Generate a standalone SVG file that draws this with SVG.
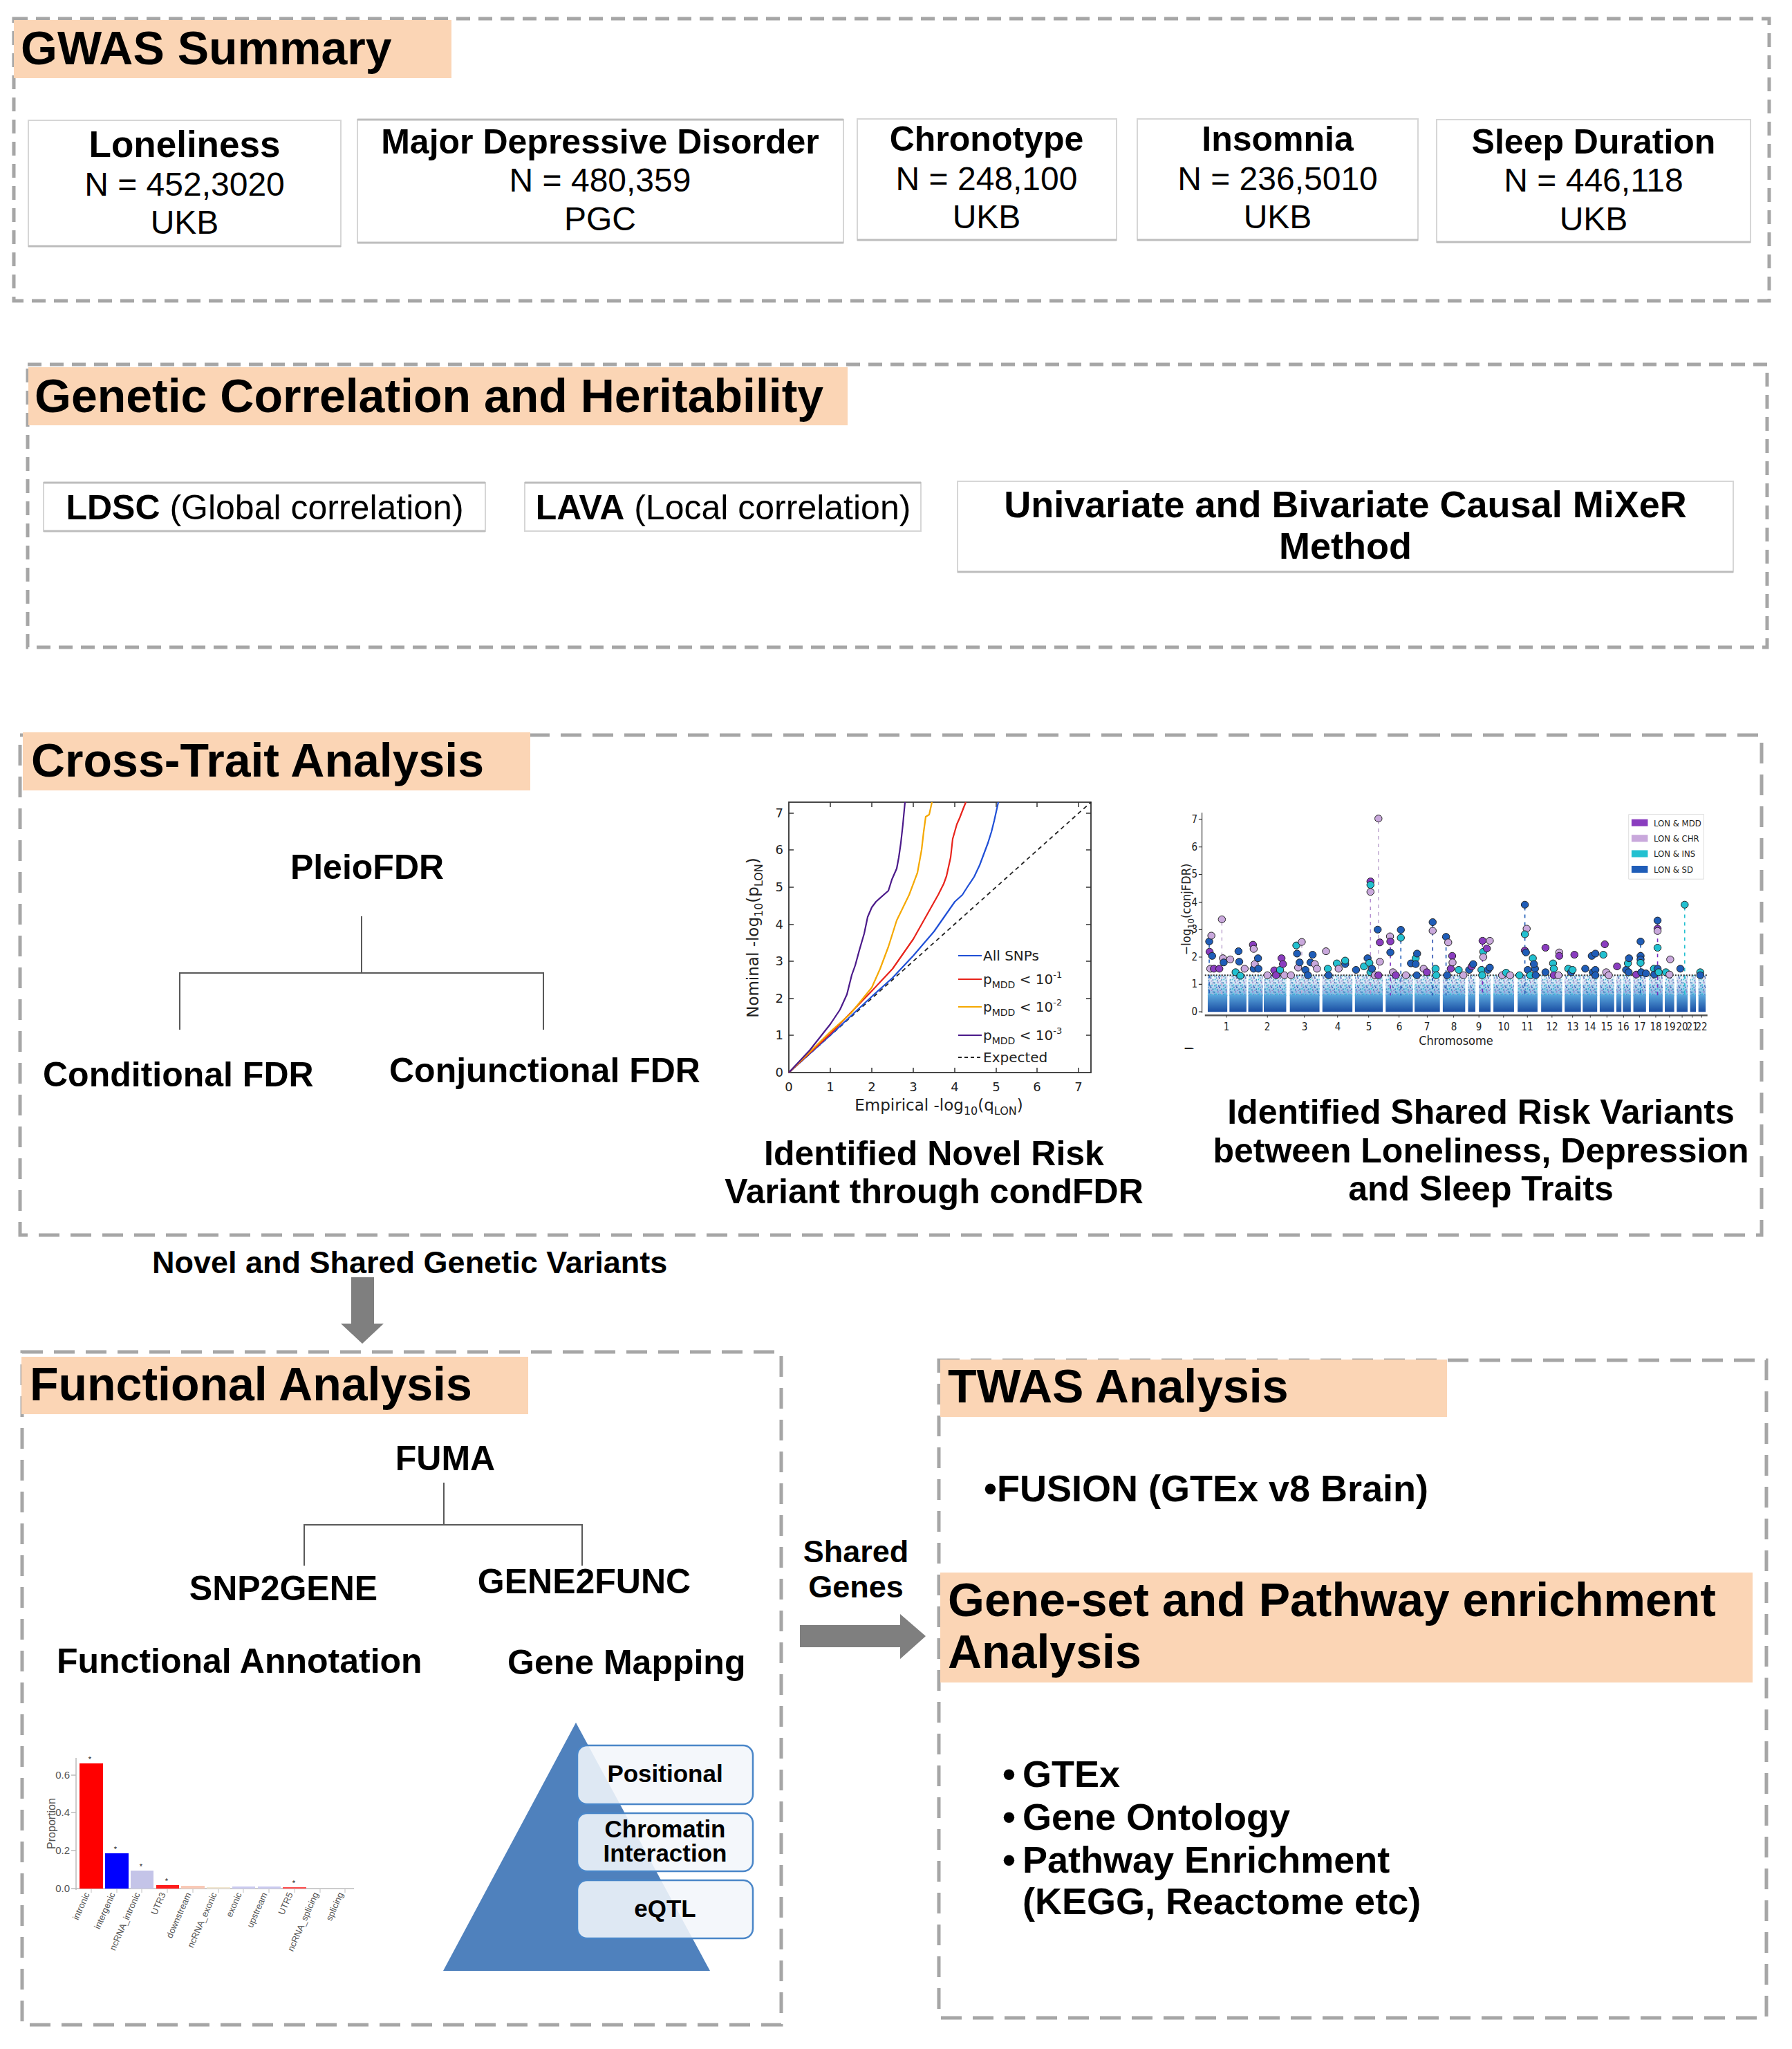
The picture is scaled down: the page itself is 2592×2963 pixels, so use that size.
<svg xmlns="http://www.w3.org/2000/svg" width="2592" height="2963" viewBox="0 0 2592 2963">
<defs>
<style>
.sec{fill:none;stroke:#a6a6a6;stroke-width:5;stroke-dasharray:20 12}
.sec2{fill:none;stroke:#a6a6a6;stroke-width:5;stroke-dasharray:30 16}
.hdr{fill:#fbd5b5}
.ht{font-family:"Liberation Sans",Arial,sans-serif;font-weight:bold;font-size:68px;fill:#000}
.box{fill:#fff;stroke:#d6d6d6;stroke-width:2}
.shadow{stroke:#bdbdbd;stroke-width:3}
.b50{font-family:"Liberation Sans",Arial,sans-serif;font-weight:bold;font-size:50px;fill:#000}
.r48{font-family:"Liberation Sans",Arial,sans-serif;font-size:48px;fill:#000}
.mid{text-anchor:middle}
.tree{fill:none;stroke:#595959;stroke-width:2}
.arr{fill:#7f7f7f}
.qq{font-family:"DejaVu Sans",sans-serif;fill:#222}
.mh{font-family:"DejaVu Sans Condensed","DejaVu Sans",sans-serif;fill:#222}
.bl{font-family:"Liberation Sans",Arial,sans-serif;fill:#555}
.pyb{fill:#f2f6fb;fill-opacity:0.88;stroke:#4a86c8;stroke-width:2.5}
.pyt{font-family:"Liberation Sans",Arial,sans-serif;font-weight:bold;font-size:35px;fill:#000;text-anchor:middle}
.ns{vector-effect:non-scaling-stroke}
</style>
<linearGradient id="gDense" x1="0" y1="0" x2="0" y2="1">
<stop offset="0" stop-color="#5aa6dc"/>
<stop offset="1" stop-color="#1a4ea3"/>
</linearGradient>
<linearGradient id="gUp" x1="0" y1="0" x2="0" y2="1">
<stop offset="0" stop-color="#8fc1e6" stop-opacity="0"/>
<stop offset="1" stop-color="#5aa6dc" stop-opacity="0.9"/>
</linearGradient>
<pattern id="pNoise" patternUnits="userSpaceOnUse" width="24" height="40">
<rect x="1" y="3" width="3" height="6" fill="#1f77b4"/>
<rect x="6" y="12" width="3" height="6" fill="#17becf"/>
<rect x="11" y="1" width="3" height="6" fill="#9467bd"/>
<rect x="15" y="22" width="3" height="6" fill="#1f3f9f"/>
<rect x="19" y="8" width="3" height="6" fill="#c5b0d5"/>
<rect x="3" y="28" width="3" height="6" fill="#17becf"/>
<rect x="9" y="33" width="3" height="6" fill="#1f77b4"/>
<rect x="13" y="16" width="3" height="6" fill="#2a5cb8"/>
<rect x="21" y="30" width="3" height="6" fill="#1f77b4"/>
<rect x="17" y="36" width="3" height="4" fill="#9467bd"/>
<rect x="7" y="22" width="3" height="5" fill="#1f5db8"/>
<rect x="2" y="16" width="3" height="5" fill="#2a5cb8"/>
<rect x="18" y="14" width="3" height="5" fill="#17becf"/>
<rect x="12" y="27" width="3" height="5" fill="#c5b0d5"/>
<rect x="22" y="2" width="2" height="5" fill="#1f3f9f"/>
</pattern>
<ellipse id="mM" rx="10" ry="15" fill="#8a3dbf" stroke="#222" stroke-width="1" vector-effect="non-scaling-stroke"/>
<ellipse id="mC" rx="10" ry="15" fill="#c9a8dc" stroke="#222" stroke-width="1" vector-effect="non-scaling-stroke"/>
<ellipse id="mI" rx="10" ry="15" fill="#22c0d0" stroke="#222" stroke-width="1" vector-effect="non-scaling-stroke"/>
<ellipse id="mS" rx="10" ry="15" fill="#1f5db8" stroke="#222" stroke-width="1" vector-effect="non-scaling-stroke"/>
<clipPath id="cBar"><rect x="40" y="2480" width="500" height="342"/></clipPath>
<clipPath id="cB"><rect x="1700" y="1500" width="40" height="17"/></clipPath>
</defs>
<rect width="2592" height="2963" fill="#fff"/>

<!-- Section 1: GWAS Summary -->
<g id="sec-gwas">
<rect class="sec" x="20" y="27" width="2539" height="408"/>
<rect class="hdr" x="20" y="29" width="633" height="84"/>
<text class="ht" x="30" y="93">GWAS Summary</text>
</g>
<g id="node-loneliness">
<rect class="box" x="41" y="174" width="452" height="182"/>
<line class="shadow" x1="41" y1="356" x2="493" y2="356"/>
<text class="b50 mid" x="267" y="227" style="font-size:53px">Loneliness</text>
<text class="r48 mid" x="267" y="283">N = 452,3020</text>
<text class="r48 mid" x="267" y="338">UKB</text>
</g>
<g id="node-mdd">
<rect class="box" x="517" y="173" width="703" height="178"/>
<line class="shadow" x1="517" y1="351" x2="1220" y2="351"/>
<line class="shadow" x1="517" y1="173" x2="1220" y2="173"/>
<text class="b50 mid" x="868" y="222">Major Depressive Disorder</text>
<text class="r48 mid" x="868" y="277">N = 480,359</text>
<text class="r48 mid" x="868" y="333">PGC</text>
</g>
<g id="node-chronotype">
<rect class="box" x="1240" y="172" width="375" height="175"/>
<line class="shadow" x1="1240" y1="347" x2="1615" y2="347"/>
<text class="b50 mid" x="1427" y="218">Chronotype</text>
<text class="r48 mid" x="1427" y="275">N = 248,100</text>
<text class="r48 mid" x="1427" y="330">UKB</text>
</g>
<g id="node-insomnia">
<rect class="box" x="1645" y="172" width="406" height="175"/>
<line class="shadow" x1="1645" y1="347" x2="2051" y2="347"/>
<text class="b50 mid" x="1848" y="218">Insomnia</text>
<text class="r48 mid" x="1848" y="275">N = 236,5010</text>
<text class="r48 mid" x="1848" y="330">UKB</text>
</g>
<g id="node-sleep">
<rect class="box" x="2078" y="173" width="454" height="177"/>
<line class="shadow" x1="2078" y1="350" x2="2532" y2="350"/>
<text class="b50 mid" x="2305" y="222">Sleep Duration</text>
<text class="r48 mid" x="2305" y="277">N = 446,118</text>
<text class="r48 mid" x="2305" y="333">UKB</text>
</g>

<!-- Section 2 -->
<g id="sec-genetic">
<rect class="sec" x="40" y="527" width="2516" height="409"/>
<rect class="hdr" x="41" y="531" width="1185" height="84"/>
<text class="ht" x="50" y="596">Genetic Correlation and Heritability</text>
</g>
<g id="node-ldsc">
<rect class="box" x="63" y="698" width="639" height="70"/>
<line class="shadow" x1="63" y1="768" x2="702" y2="768"/>
<line class="shadow" x1="63" y1="698" x2="702" y2="698"/>
<text class="b50 mid" x="383" y="751">LDSC<tspan style="font-weight:normal"> (Global correlation)</tspan></text>
</g>
<g id="node-lava">
<rect class="box" x="759" y="698" width="573" height="70"/>
<line class="shadow" x1="759" y1="698" x2="1332" y2="698"/>
<text class="b50 mid" x="1046" y="751">LAVA<tspan style="font-weight:normal"> (Local correlation)</tspan></text>
</g>
<g id="node-mixer">
<rect class="box" x="1385" y="696" width="1122" height="131"/>
<line class="shadow" x1="1385" y1="827" x2="2507" y2="827"/>
<text class="b50 mid" x="1946" y="748" style="font-size:54px">Univariate and Bivariate Causal MiXeR</text>
<text class="b50 mid" x="1946" y="808" style="font-size:54px">Method</text>
</g>

<!-- Section 3 -->
<g id="sec-cross">
<rect class="sec2" x="29" y="1063" width="2519" height="723"/>
<rect class="hdr" x="33" y="1059" width="734" height="84"/>
<text class="ht" x="45" y="1123">Cross-Trait Analysis</text>
</g>
<g id="node-pleiofdr"><text class="b50 mid" x="531" y="1271">PleioFDR</text></g>
<g id="node-condfdr"><text class="b50" x="62" y="1571">Conditional FDR</text></g>
<g id="node-conjfdr"><text class="b50" x="563" y="1565">Conjunctional FDR</text></g>

<!-- QQ plot -->
<g id="node-qqplot">
<rect x="1141" y="1160" width="437" height="391" fill="none" stroke="#333" stroke-width="1.8"/>
<g stroke="#333" stroke-width="1.5">
<path d="M1141 1497h7M1141 1444h7M1141 1390h7M1141 1337h7M1141 1283h7M1141 1229h7M1141 1176h7"/>
<path d="M1578 1497h-7M1578 1444h-7M1578 1390h-7M1578 1337h-7M1578 1283h-7M1578 1229h-7M1578 1176h-7"/>
<path d="M1201 1551v-7M1261 1551v-7M1321 1551v-7M1381 1551v-7M1441 1551v-7M1500 1551v-7M1560 1551v-7"/>
<path d="M1201 1160v7M1261 1160v7M1321 1160v7M1381 1160v7M1441 1160v7M1500 1160v7M1560 1160v7"/>
</g>
<g class="qq" font-size="18" text-anchor="end">
<text x="1133" y="1557">0</text><text x="1133" y="1503">1</text><text x="1133" y="1450">2</text><text x="1133" y="1396">3</text>
<text x="1133" y="1343">4</text><text x="1133" y="1289">5</text><text x="1133" y="1235">6</text><text x="1133" y="1182">7</text>
</g>
<g class="qq" font-size="18" text-anchor="middle">
<text x="1141" y="1578">0</text><text x="1201" y="1578">1</text><text x="1261" y="1578">2</text><text x="1321" y="1578">3</text>
<text x="1381" y="1578">4</text><text x="1441" y="1578">5</text><text x="1500" y="1578">6</text><text x="1560" y="1578">7</text>
</g>
<text class="qq" x="1358" y="1606" font-size="23" text-anchor="middle">Empirical -log<tspan font-size="16" baseline-shift="-6">10</tspan>(q<tspan font-size="16" baseline-shift="-6">LON</tspan>)</text>
<text class="qq" transform="translate(1097,1356) rotate(-90)" font-size="23" text-anchor="middle">Nominal -log<tspan font-size="16" baseline-shift="-6">10</tspan>(p<tspan font-size="16" baseline-shift="-6">LON</tspan>)</text>
<line x1="1141" y1="1551" x2="1578" y2="1160" stroke="#222" stroke-width="1.8" stroke-dasharray="6 5"/>
<g fill="none" stroke-width="2.2" stroke-linejoin="round">
<polyline stroke="#1f4fd6" points="1141,1551 1201,1497 1261,1441 1291,1414 1321,1382 1351,1347 1381,1304 1392,1294 1399,1283 1409,1268 1417,1251 1429,1219 1434,1203 1438,1187 1444,1160"/>
<polyline stroke="#e8231b" points="1141,1551 1201,1495 1261,1433 1291,1401 1321,1358 1339,1326 1357,1294 1365,1278 1369,1267 1375,1240 1378,1213 1384,1192 1388,1183 1393,1170 1397,1160"/>
<polyline stroke="#f5a800" points="1141,1551 1201,1492 1231,1465 1261,1428 1273,1401 1285,1369 1297,1331 1315,1294 1327,1262 1333,1229 1336,1203 1339,1181 1344,1178 1348,1160"/>
<polyline stroke="#4b1a8a" points="1141,1551 1171,1519 1201,1481 1215,1460 1225,1438 1232,1410 1237,1396 1243,1374 1250,1350 1255,1326 1261,1312 1267,1304 1285,1288 1290,1272 1297,1256 1300,1240 1303,1219 1306,1192 1309,1160"/>
</g>
<g stroke-width="2.2">
<line x1="1386" y1="1382" x2="1420" y2="1382" stroke="#1f4fd6"/>
<line x1="1386" y1="1416" x2="1420" y2="1416" stroke="#e8231b"/>
<line x1="1386" y1="1456" x2="1420" y2="1456" stroke="#f5a800"/>
<line x1="1386" y1="1497" x2="1420" y2="1497" stroke="#4b1a8a"/>
<line x1="1386" y1="1529" x2="1420" y2="1529" stroke="#222" stroke-dasharray="5 4"/>
</g>
<g class="qq" font-size="20">
<text x="1422" y="1389">All SNPs</text>
<text x="1422" y="1423">p<tspan font-size="14" baseline-shift="-6">MDD</tspan> &lt; 10<tspan font-size="13" baseline-shift="9">-1</tspan></text>
<text x="1422" y="1463">p<tspan font-size="14" baseline-shift="-6">MDD</tspan> &lt; 10<tspan font-size="13" baseline-shift="9">-2</tspan></text>
<text x="1422" y="1504">p<tspan font-size="14" baseline-shift="-6">MDD</tspan> &lt; 10<tspan font-size="13" baseline-shift="9">-3</tspan></text>
<text x="1422" y="1536">Expected</text>
</g>
<text class="b50 mid" x="1351" y="1685">Identified Novel Risk</text>
<text class="b50 mid" x="1351" y="1740">Variant through condFDR</text>
</g>

<!-- Manhattan plot -->
<g id="node-manhattan">
<g transform="translate(1680,1150) scale(0.523,0.3367)">
<path fill="url(#gUp)" d="M128 770h54v92h-54zM188 770h47v92h-47zM240 770h40v92h-40zM283 770h62v92h-62zM355 770h82v92h-82zM445 770h83v92h-83zM535 770h77v92h-77zM620 770h75v92h-75zM700 770h70v92h-70zM778 770h62v92h-62zM848 770h20v92h-20zM878 770h32v92h-32zM918 770h57v92h-57zM985 770h55v92h-55zM1050 770h58v92h-58zM1115 770h45v92h-45zM1165 770h40v92h-40zM1212 770h40v92h-40zM1258 770h14v92h-14zM1276 770h22v92h-22zM1305 770h35v92h-35zM1348 770h38v92h-38zM1392 770h26v92h-26zM1425 770h30v92h-30zM1462 770h16v92h-16zM1485 770h20v92h-20z"/>
<path fill="url(#pNoise)" d="M128 770h54v92h-54zM188 770h47v92h-47zM240 770h40v92h-40zM283 770h62v92h-62zM355 770h82v92h-82zM445 770h83v92h-83zM535 770h77v92h-77zM620 770h75v92h-75zM700 770h70v92h-70zM778 770h62v92h-62zM848 770h20v92h-20zM878 770h32v92h-32zM918 770h57v92h-57zM985 770h55v92h-55zM1050 770h58v92h-58zM1115 770h45v92h-45zM1165 770h40v92h-40zM1212 770h40v92h-40zM1258 770h14v92h-14zM1276 770h22v92h-22zM1305 770h35v92h-35zM1348 770h38v92h-38zM1392 770h26v92h-26zM1425 770h30v92h-30zM1462 770h16v92h-16zM1485 770h20v92h-20z"/>
<path fill="url(#gDense)" d="M128 858h54v72h-54zM188 858h47v72h-47zM240 858h40v72h-40zM283 858h62v72h-62zM355 858h82v72h-82zM445 858h83v72h-83zM535 858h77v72h-77zM620 858h75v72h-75zM700 858h70v72h-70zM778 858h62v72h-62zM848 858h20v72h-20zM878 858h32v72h-32zM918 858h57v72h-57zM985 858h55v72h-55zM1050 858h58v72h-58zM1115 858h45v72h-45zM1165 858h40v72h-40zM1212 858h40v72h-40zM1258 858h14v72h-14zM1276 858h22v72h-22zM1305 858h35v72h-35zM1348 858h38v72h-38zM1392 858h26v72h-26zM1425 858h30v72h-30zM1462 858h16v72h-16zM1485 858h20v72h-20z"/>
<g fill="none" stroke-width="1.6" stroke-dasharray="5 6">
<line class="ns" x1="600" y1="110" x2="600" y2="860" stroke="#c5b0d5"/>
<line class="ns" x1="578" y1="380" x2="578" y2="860" stroke="#b48fd0"/>
<line class="ns" x1="167" y1="545" x2="167" y2="860" stroke="#c5b0d5"/>
<line class="ns" x1="750" y1="555" x2="750" y2="860" stroke="#2a4fb0"/>
<line class="ns" x1="662" y1="590" x2="662" y2="860" stroke="#1f5db8"/>
<line class="ns" x1="1005" y1="480" x2="1005" y2="860" stroke="#1f5db8"/>
<line class="ns" x1="1372" y1="550" x2="1372" y2="860" stroke="#7b2cbf"/>
<line class="ns" x1="1447" y1="480" x2="1447" y2="860" stroke="#22c0d0"/>
<line class="ns" x1="1325" y1="640" x2="1325" y2="860" stroke="#1f5db8"/>
<line class="ns" x1="888" y1="635" x2="888" y2="860" stroke="#7b2cbf"/>
<line class="ns" x1="388" y1="640" x2="388" y2="860" stroke="#c5b0d5"/>
<line class="ns" x1="787" y1="620" x2="787" y2="860" stroke="#1f5db8"/>
<line class="ns" x1="132" y1="640" x2="132" y2="860" stroke="#1f5db8"/>
<line class="ns" x1="633" y1="620" x2="633" y2="860" stroke="#7b2cbf"/>
</g>
<line class="ns" x1="120" y1="773" x2="1510" y2="773" stroke="#333" stroke-width="2" stroke-dasharray="2 2"/>
<line class="ns" x1="112" y1="75" x2="112" y2="935" stroke="#333" stroke-width="1.2"/>
<path class="ns" stroke="#333" stroke-width="1.2" d="M103 930h9M103 812h9M103 695h9M103 577h9M103 460h9M103 340h9M103 222h9M103 103h9"/>
<line class="ns" x1="120" y1="945" x2="1510" y2="945" stroke="#555" stroke-width="2.5"/>
<path class="ns" stroke="#333" stroke-width="1" d="M180 945v10M293 945v10M395 945v10M487 945v10M573 945v10M657 945v10M735 945v10M808 945v10M878 945v10M946 945v10M1012 945v10M1080 945v10M1137 945v10M1186 945v10M1232 945v10M1278 945v10M1322 945v10M1367 945v10M1405 945v10M1440 945v10M1468 945v10M1494 945v10"/>
<use href="#mS" x="132" y="628"/><use href="#mM" x="133" y="672"/><use href="#mC" x="135" y="745"/><use href="#mC" x="138" y="603"/><use href="#mS" x="140" y="690"/><use href="#mM" x="145" y="745"/><use href="#mM" x="160" y="745"/><use href="#mC" x="167" y="533"/><use href="#mC" x="170" y="700"/><use href="#mS" x="172" y="718"/><use href="#mC" x="190" y="705"/><use href="#mI" x="205" y="760"/><use href="#mS" x="213" y="670"/><use href="#mS" x="215" y="715"/><use href="#mI" x="218" y="775"/><use href="#mC" x="230" y="745"/>
<use href="#mM" x="253" y="642"/><use href="#mC" x="255" y="660"/><use href="#mS" x="255" y="745"/><use href="#mC" x="258" y="725"/><use href="#mS" x="267" y="700"/><use href="#mS" x="268" y="745"/><use href="#mC" x="293" y="773"/><use href="#mM" x="312" y="752"/><use href="#mM" x="317" y="773"/><use href="#mI" x="328" y="750"/><use href="#mM" x="332" y="700"/><use href="#mM" x="336" y="725"/><use href="#mC" x="340" y="773"/>
<use href="#mC" x="358" y="773"/><use href="#mI" x="373" y="645"/><use href="#mS" x="375" y="680"/><use href="#mC" x="378" y="740"/><use href="#mS" x="382" y="718"/><use href="#mC" x="388" y="630"/><use href="#mS" x="398" y="750"/><use href="#mS" x="405" y="773"/><use href="#mS" x="412" y="718"/><use href="#mS" x="418" y="685"/><use href="#mC" x="424" y="725"/><use href="#mC" x="430" y="745"/>
<use href="#mC" x="455" y="670"/><use href="#mI" x="460" y="745"/><use href="#mS" x="462" y="773"/><use href="#mI" x="485" y="722"/><use href="#mC" x="490" y="745"/><use href="#mS" x="508" y="725"/><use href="#mI" x="508" y="710"/>
<use href="#mS" x="538" y="750"/><use href="#mI" x="560" y="735"/><use href="#mS" x="570" y="700"/><use href="#mI" x="575" y="720"/><use href="#mM" x="578" y="370"/><use href="#mI" x="578" y="385"/><use href="#mC" x="578" y="415"/><use href="#mI" x="578" y="760"/><use href="#mS" x="582" y="745"/><use href="#mS" x="598" y="577"/><use href="#mC" x="600" y="100"/><use href="#mM" x="604" y="632"/><use href="#mC" x="604" y="715"/><use href="#mC" x="590" y="773"/><use href="#mM" x="600" y="773"/>
<use href="#mC" x="632" y="606"/><use href="#mM" x="633" y="628"/><use href="#mS" x="633" y="675"/><use href="#mC" x="640" y="760"/><use href="#mM" x="648" y="773"/><use href="#mS" x="662" y="578"/><use href="#mI" x="662" y="612"/><use href="#mC" x="676" y="773"/><use href="#mS" x="690" y="722"/><use href="#mI" x="703" y="700"/><use href="#mS" x="703" y="725"/><use href="#mS" x="707" y="680"/><use href="#mS" x="706" y="773"/>
<use href="#mC" x="725" y="745"/><use href="#mM" x="734" y="760"/><use href="#mS" x="750" y="545"/><use href="#mC" x="750" y="582"/><use href="#mI" x="758" y="745"/><use href="#mI" x="760" y="773"/>
<use href="#mS" x="787" y="608"/><use href="#mC" x="793" y="632"/><use href="#mS" x="790" y="773"/><use href="#mM" x="800" y="745"/><use href="#mM" x="804" y="690"/><use href="#mC" x="805" y="718"/><use href="#mI" x="822" y="750"/><use href="#mC" x="835" y="773"/>
<use href="#mS" x="851" y="750"/><use href="#mM" x="858" y="735"/><use href="#mS" x="862" y="725"/><use href="#mM" x="888" y="625"/><use href="#mI" x="890" y="672"/><use href="#mC" x="890" y="695"/><use href="#mI" x="885" y="750"/><use href="#mI" x="887" y="773"/><use href="#mM" x="900" y="658"/><use href="#mS" x="903" y="750"/><use href="#mC" x="908" y="625"/><use href="#mS" x="908" y="740"/>
<use href="#mC" x="942" y="773"/><use href="#mI" x="953" y="762"/><use href="#mC" x="964" y="773"/><use href="#mI" x="990" y="773"/>
<use href="#mS" x="1005" y="470"/><use href="#mC" x="1010" y="573"/><use href="#mI" x="1005" y="597"/><use href="#mM" x="1005" y="667"/><use href="#mS" x="1008" y="675"/><use href="#mS" x="1013" y="750"/><use href="#mI" x="1027" y="700"/><use href="#mS" x="1033" y="745"/><use href="#mS" x="1030" y="725"/><use href="#mI" x="1020" y="773"/><use href="#mS" x="1035" y="773"/>
<use href="#mM" x="1062" y="655"/><use href="#mS" x="1062" y="760"/><use href="#mI" x="1083" y="722"/><use href="#mI" x="1085" y="745"/><use href="#mM" x="1085" y="773"/><use href="#mC" x="1098" y="773"/><use href="#mC" x="1100" y="675"/><use href="#mM" x="1100" y="690"/>
<use href="#mI" x="1125" y="745"/><use href="#mS" x="1133" y="760"/><use href="#mI" x="1137" y="750"/><use href="#mM" x="1142" y="685"/>
<use href="#mS" x="1172" y="745"/><use href="#mS" x="1190" y="690"/><use href="#mS" x="1200" y="680"/><use href="#mS" x="1193" y="760"/><use href="#mS" x="1200" y="750"/><use href="#mS" x="1200" y="773"/>
<use href="#mI" x="1222" y="685"/><use href="#mM" x="1226" y="640"/><use href="#mC" x="1230" y="760"/><use href="#mC" x="1237" y="773"/><use href="#mM" x="1260" y="735"/>
<use href="#mS" x="1285" y="750"/><use href="#mI" x="1290" y="722"/><use href="#mS" x="1293" y="700"/><use href="#mS" x="1292" y="760"/>
<use href="#mM" x="1313" y="770"/><use href="#mS" x="1325" y="628"/><use href="#mS" x="1325" y="690"/><use href="#mS" x="1325" y="705"/><use href="#mI" x="1325" y="720"/><use href="#mS" x="1327" y="760"/><use href="#mS" x="1340" y="765"/>
<use href="#mI" x="1362" y="745"/><use href="#mS" x="1363" y="770"/><use href="#mS" x="1372" y="538"/><use href="#mM" x="1372" y="573"/><use href="#mC" x="1372" y="583"/><use href="#mI" x="1372" y="655"/><use href="#mS" x="1372" y="745"/><use href="#mI" x="1375" y="760"/>
<use href="#mI" x="1395" y="760"/><use href="#mC" x="1407" y="705"/><use href="#mC" x="1405" y="770"/>
<use href="#mS" x="1435" y="745"/><use href="#mI" x="1447" y="470"/>
<use href="#mI" x="1490" y="760"/><use href="#mS" x="1490" y="773"/>
<rect class="ns" x="1292" y="82" width="208" height="278" fill="#fff" stroke="#ddd" stroke-width="1"/>
<rect x="1300" y="103" width="45" height="30" fill="#8a3dbf"/>
<rect x="1300" y="170" width="45" height="30" fill="#c9a8dc"/>
<rect x="1300" y="236" width="45" height="30" fill="#22c0d0"/>
<rect x="1300" y="303" width="45" height="30" fill="#1f5db8"/>
</g>
<g class="mh" font-size="13">
<text x="2392" y="1195">LON &amp; MDD</text>
<text x="2392" y="1217">LON &amp; CHR</text>
<text x="2392" y="1239">LON &amp; INS</text>
<text x="2392" y="1262">LON &amp; SD</text>
</g>
<g class="mh" font-size="15" text-anchor="end">
<text x="1732" y="1468">0</text><text x="1732" y="1428">1</text><text x="1732" y="1389">2</text><text x="1732" y="1349">3</text>
<text x="1732" y="1310">4</text><text x="1732" y="1269">5</text><text x="1732" y="1230">6</text><text x="1732" y="1190">7</text>
</g>
<g class="mh" font-size="15" text-anchor="middle">
<text x="1774" y="1490">1</text><text x="1833" y="1490">2</text><text x="1887" y="1490">3</text><text x="1935" y="1490">4</text>
<text x="1980" y="1490">5</text><text x="2024" y="1490">6</text><text x="2064" y="1490">7</text><text x="2103" y="1490">8</text>
<text x="2139" y="1490">9</text><text x="2175" y="1490">10</text><text x="2209" y="1490">11</text><text x="2245" y="1490">12</text>
<text x="2275" y="1490">13</text><text x="2300" y="1490">14</text><text x="2324" y="1490">15</text><text x="2348" y="1490">16</text>
<text x="2372" y="1490">17</text><text x="2395" y="1490">18</text><text x="2415" y="1490">19</text><text x="2433" y="1490">20</text>
<text x="2448" y="1490">21</text><text x="2461" y="1490">22</text>
</g>
<text class="mh" x="2106" y="1511" font-size="18" text-anchor="middle">Chromosome</text>
<text class="mh" transform="translate(1722,1315) rotate(-90)" font-size="18" text-anchor="middle">−log<tspan font-size="13" baseline-shift="-5">10</tspan>(conjFDR)</text>
<text clip-path="url(#cB)" x="1712" y="1532" font-family="Liberation Sans, Arial, sans-serif" font-weight="bold" font-size="24" fill="#222">B</text>
<text class="b50 mid" x="2142" y="1625">Identified Shared Risk Variants</text>
<text class="b50 mid" x="2142" y="1681">between Loneliness, Depression</text>
<text class="b50 mid" x="2142" y="1736">and Sleep Traits</text>
</g>

<!-- Section 4 -->
<g id="sec-functional">
<rect class="sec2" x="32" y="1955" width="1098" height="973"/>
<rect class="hdr" x="31" y="1962" width="733" height="83"/>
<text class="ht" x="43" y="2025">Functional Analysis</text>
</g>
<g id="node-fuma"><text class="b50 mid" x="644" y="2126">FUMA</text></g>
<g id="node-snp2gene"><text class="b50 mid" x="410" y="2314">SNP2GENE</text></g>
<g id="node-gene2func"><text class="b50 mid" x="845" y="2304">GENE2FUNC</text></g>
<g id="node-annotation"><text class="b50" x="82" y="2419">Functional Annotation</text></g>
<g id="node-mapping"><text class="b50" x="734" y="2421">Gene Mapping</text></g>

<g id="node-barchart">
<line x1="110" y1="2542" x2="110" y2="2733" stroke="#bbb" stroke-width="1.5"/>
<line x1="110" y1="2731" x2="512" y2="2731" stroke="#bbb" stroke-width="1.5"/>
<path d="M103 2567h7M103 2621h7M103 2676h7M103 2731h7" stroke="#bbb" stroke-width="1.5"/>
<path d="M132 2731v6M169 2731v6M205 2731v6M242 2731v6M279 2731v6M316 2731v6M352 2731v6M389 2731v6M426 2731v6M463 2731v6M499 2731v6" stroke="#ccc" stroke-width="1.2"/>
<g class="bl" font-size="15" text-anchor="end">
<text x="101" y="2572">0.6</text><text x="101" y="2626">0.4</text><text x="101" y="2681">0.2</text><text x="101" y="2736">0.0</text>
</g>
<text class="bl" transform="translate(80,2637) rotate(-90)" font-size="16" text-anchor="middle">Proportion</text>
<rect x="115" y="2550" width="34" height="181" fill="#ff0000"/>
<rect x="152" y="2680" width="34" height="51" fill="#0000ff"/>
<rect x="189" y="2705" width="33" height="26" fill="#c4c4e8"/>
<rect x="226" y="2726" width="33" height="5" fill="#ff1a1a"/>
<rect x="262" y="2727" width="34" height="4" fill="#f9c9b6"/>
<rect x="299" y="2729" width="34" height="2" fill="#f2e6d0"/>
<rect x="336" y="2728" width="33" height="3" fill="#cacaf0"/>
<rect x="373" y="2728" width="33" height="3" fill="#cacaf0"/>
<rect x="409" y="2729" width="34" height="2" fill="#ff4d4d"/>
<g font-family="Liberation Sans, Arial, sans-serif" font-size="11" fill="#222" text-anchor="middle">
<text x="130" y="2548">*</text><text x="167" y="2678">*</text><text x="204" y="2703">*</text><text x="241" y="2724">*</text><text x="425" y="2727">*</text>
</g>
<g class="bl" font-size="13" text-anchor="end" clip-path="url(#cBar)">
<text transform="translate(130,2739) rotate(-66)">intronic</text>
<text transform="translate(167,2739) rotate(-66)">intergenic</text>
<text transform="translate(203,2739) rotate(-66)">ncRNA_intronic</text>
<text transform="translate(240,2739) rotate(-66)">UTR3</text>
<text transform="translate(277,2739) rotate(-66)">downstream</text>
<text transform="translate(314,2739) rotate(-66)">ncRNA_exonic</text>
<text transform="translate(350,2739) rotate(-66)">exonic</text>
<text transform="translate(387,2739) rotate(-66)">upstream</text>
<text transform="translate(424,2739) rotate(-66)">UTR5</text>
<text transform="translate(461,2739) rotate(-66)">ncRNA_splicing</text>
<text transform="translate(497,2739) rotate(-66)">splicing</text>
</g>
</g>

<g id="node-pyramid">
<polygon points="833,2491 641,2850 1027,2850" fill="#4f81bd"/>
<rect class="pyb" x="835" y="2524" width="254" height="85" rx="14"/>
<rect class="pyb" x="835" y="2622" width="254" height="84" rx="14"/>
<rect class="pyb" x="835" y="2719" width="254" height="84" rx="14"/>
<text class="pyt" x="962" y="2577">Positional</text>
<text class="pyt" x="962" y="2657">Chromatin</text>
<text class="pyt" x="962" y="2692">Interaction</text>
<text class="pyt" x="962" y="2772">eQTL</text>
</g>

<!-- Section 5 -->
<g id="sec-twas">
<rect class="sec2" x="1358" y="1967" width="1197" height="951"/>
<rect class="hdr" x="1360" y="1966" width="733" height="83"/>
<text class="ht" x="1371" y="2028">TWAS Analysis</text>
</g>
<g id="node-fusion"><text class="b50" x="1423" y="2171" style="font-size:54px">•FUSION (GTEx v8 Brain)</text></g>
<g id="node-geneset">
<rect class="hdr" x="1360" y="2274" width="1175" height="159"/>
<text class="ht" x="1371" y="2337">Gene-set and Pathway enrichment</text>
<text class="ht" x="1371" y="2412">Analysis</text>
</g>
<g id="node-enrichment" class="b50" style="font-size:54px">
<text y="2584"><tspan x="1450">•</tspan><tspan x="1479">GTEx</tspan></text>
<text y="2646"><tspan x="1450">•</tspan><tspan x="1479">Gene Ontology</tspan></text>
<text y="2708"><tspan x="1450">•</tspan><tspan x="1479">Pathway Enrichment</tspan></text>
<text x="1479" y="2768">(KEGG, Reactome etc)</text>
</g>

<!-- Connectors -->
<g id="connectors">
<path class="tree" d="M523 1325V1407M260 1489V1407H786V1489"/>
<path class="tree" d="M642 2144V2205M440 2264V2205H842V2264"/>
<text class="b50" x="220" y="1841" style="font-size:45px">Novel and Shared Genetic Variants</text>
<polygon class="arr" points="508,1847 541,1847 541,1914 555,1914 524,1943 493,1914 508,1914"/>
<text class="b50 mid" x="1238" y="2259" style="font-size:45px">Shared</text>
<text class="b50 mid" x="1238" y="2310" style="font-size:45px">Genes</text>
<polygon class="arr" points="1157,2350 1302,2350 1302,2334 1339,2366 1302,2399 1302,2382 1157,2382"/>
</g>
</svg>
